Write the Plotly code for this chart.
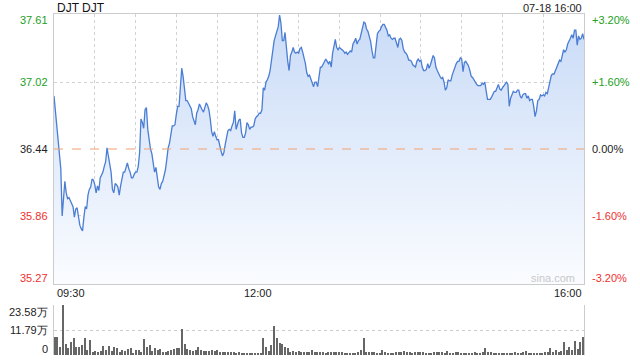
import plotly.graph_objects as go
import pandas as pd

prev_close = 36.44

prices = [
    36.90, 36.78, 36.64, 36.55, 36.44, 36.27, 35.86, 36.04, 36.16, 36.06,
    36.01, 36.02, 35.99, 35.97, 35.94, 35.85, 35.92, 35.93, 35.85, 35.78,
    35.75, 35.73, 35.85, 35.94, 35.92, 36.04, 36.09, 36.11, 36.18, 36.17,
    36.13, 36.06, 36.12, 36.08, 36.19, 36.22, 36.24, 36.29, 36.33, 36.45,
    36.38, 36.33, 36.24, 36.09, 36.06, 36.14, 36.13, 36.11, 36.04, 36.12,
    36.18, 36.24, 36.24, 36.29, 36.32, 36.27, 36.24, 36.19, 36.19, 36.22,
    36.24, 36.24, 36.29, 36.41, 36.70, 36.67, 36.62, 36.78, 36.80, 36.61,
    36.52, 36.44, 36.40, 36.32, 36.24, 36.28, 36.18, 36.11, 36.09, 36.14,
    36.16, 36.21, 36.26, 36.35, 36.45, 36.49, 36.55, 36.64, 36.64, 36.65,
    36.74, 36.81, 36.81, 37.01, 37.14, 37.07, 36.95, 36.86, 36.86, 36.84,
    36.82, 36.79, 36.72, 36.68, 36.65, 36.75, 36.78, 36.83, 36.80, 36.78,
    36.76, 36.81, 36.84, 36.82, 36.78, 36.70, 36.59, 36.55, 36.59, 36.55,
    36.52, 36.52, 36.46, 36.42, 36.38, 36.41, 36.48, 36.56, 36.60, 36.61,
    36.60, 36.64, 36.67, 36.77, 36.61, 36.65, 36.69, 36.70, 36.58, 36.54,
    36.54, 36.58, 36.67, 36.65, 36.61, 36.63, 36.63, 36.64, 36.70, 36.72,
    36.73, 36.75, 36.75, 36.78, 36.97, 36.95, 37.02, 37.04, 37.07, 37.12,
    37.22, 37.32, 37.38, 37.42, 37.47, 37.50, 37.60, 37.53, 37.38, 37.38,
    37.45, 37.31, 37.20, 37.12, 37.25, 37.28, 37.32, 37.28, 37.27, 37.28,
    37.27, 37.31, 37.32, 37.28, 37.24, 37.18, 37.10, 37.07, 37.08, 37.04,
    37.01, 36.98, 37.02, 37.02, 36.98, 37.08, 37.15, 37.15, 37.17, 37.19,
    37.22, 37.20, 37.18, 37.20, 37.15, 37.27, 37.34, 37.39, 37.32, 37.30,
    37.32, 37.31, 37.30, 37.29, 37.27, 37.28, 37.26, 37.28, 37.29, 37.28,
    37.35, 37.37, 37.40, 37.35, 37.38, 37.39, 37.44, 37.48, 37.54, 37.53,
    37.48, 37.46, 37.41, 37.37, 37.29, 37.23, 37.23, 37.34, 37.44, 37.46,
    37.47, 37.50, 37.52, 37.52, 37.50, 37.47, 37.42, 37.43, 37.40, 37.39,
    37.40, 37.40, 37.36, 37.32, 37.39, 37.40, 37.38, 37.31, 37.28, 37.27,
    37.25, 37.21, 37.21, 37.20, 37.17, 37.16, 37.15, 37.20, 37.22, 37.20,
    37.21, 37.15, 37.12, 37.12, 37.13, 37.18, 37.14, 37.17, 37.21, 37.25,
    37.23, 37.15, 37.12, 37.09, 37.07, 37.05, 37.06, 37.02, 36.95, 36.97,
    37.04, 37.03, 37.03, 37.08, 37.12, 37.16, 37.18, 37.20, 37.20, 37.23,
    37.22, 37.11, 37.19, 37.20, 37.18, 37.16, 37.12, 37.07, 37.06, 37.04,
    37.01, 37.00, 36.99, 36.99, 36.99, 37.01, 37.00, 37.02, 36.95, 36.87,
    36.87, 36.87, 36.89, 36.91, 36.94, 36.94, 36.97, 37.00, 36.96, 36.95,
    36.97, 36.99, 37.01, 37.02, 37.00, 36.81, 36.88, 36.92, 36.94, 36.93,
    36.93, 36.95, 36.95, 36.90, 36.88, 36.91, 36.92, 36.92, 36.88, 36.90,
    36.86, 36.87, 36.87, 36.81, 36.72, 36.77, 36.86, 36.87, 36.91, 36.90,
    36.91, 36.90, 36.93, 36.92, 36.98, 37.05, 37.08, 37.09, 37.09, 37.12,
    37.15, 37.19, 37.21, 37.20, 37.26, 37.30, 37.28, 37.30, 37.35, 37.37,
    37.40, 37.43, 37.40, 37.47, 37.47, 37.34, 37.42, 37.39, 37.40, 37.44,
    37.39,
]

# volume in 万 shares, one bar per 2 minutes
volumes_wan = [
    8.6, 8.6, 3.9, 23.58, 5.0, 3.5, 6.1, 7.9, 3.9, 4.0,
    4.7, 7.9, 2.5, 7.1, 1.6, 2.0, 1.6, 2.0, 4.2, 2.5,
    4.2, 2.0, 3.6, 3.5, 1.6, 2.4, 2.0, 2.6, 3.1, 1.1,
    2.4, 2.4, 1.6, 7.6, 3.9, 4.7, 2.0, 3.5, 2.4, 2.7,
    1.3, 1.3, 2.0, 2.4, 2.7, 3.5, 3.5, 12.1, 5.0, 2.7,
    2.2, 2.0, 2.5, 3.9, 2.2, 1.7, 2.0, 1.8, 2.4, 1.8,
    2.3, 1.6, 1.6, 1.6, 1.5, 1.2, 1.6, 0.8, 1.2, 0.8,
    0.7, 0.5, 0.7, 0.8, 1.1, 0.8, 0.5, 7.9, 4.0, 1.9,
    4.7, 13.7, 8.2, 5.5, 5.0, 3.9, 3.1, 1.6, 2.0, 1.6,
    2.0, 1.3, 1.6, 1.6, 1.3, 2.5, 1.6, 1.5, 1.3, 1.2,
    0.8, 1.3, 1.5, 1.2, 1.3, 1.4, 1.6, 0.9, 0.8, 0.8,
    1.1, 1.1, 1.4, 2.4, 7.9, 1.6, 1.2, 1.3, 1.2, 1.0,
    1.1, 2.2, 1.2, 0.9, 1.1, 0.8, 1.2, 1.6, 1.3, 1.9,
    1.5, 1.3, 1.1, 1.6, 1.4, 1.3, 1.4, 1.1, 1.1, 1.1,
    1.3, 1.2, 1.4, 1.2, 1.1, 2.0, 1.1, 1.0, 1.2, 1.2,
    1.1, 0.9, 0.8, 1.0, 0.8, 1.5, 1.1, 1.0, 1.2, 3.1,
    1.5, 1.2, 1.0, 0.9, 0.8, 1.0, 0.8, 1.0, 1.0, 0.9,
    1.2, 0.9, 1.0, 1.5, 1.9, 0.8, 0.8, 1.0, 0.8, 1.1,
    0.8, 1.3, 1.4, 3.1, 1.2, 2.2, 1.6, 2.0, 6.3, 2.4,
    3.6, 2.4, 6.7, 2.8, 6.3, 8.6,
]

price_ticks = [37.61, 37.02, 36.44, 35.86, 35.27]
pct_labels = ["+3.20%", "+1.60%", "0.00%", "-1.60%", "-3.20%"]
tick_colors = ["#22a022", "#22a022", "#222222", "#f03030", "#f03030"]
vol_ticks = [23.58, 11.79, 0]
vol_labels = ["23.58万", "11.79万", "0"]
time_labels = ["09:30", "12:00", "16:00"]
title_text = "DJT DJT"
stamp_text = "07-18 16:00"

times = pd.date_range("2024-07-18 09:30", periods=len(prices), freq="min")
vol_times = pd.date_range("2024-07-18 09:30", periods=len(volumes_wan), freq="2min")
x_end = pd.Timestamp("2024-07-18 16:00")

lo = price_ticks[-1]
hi = price_ticks[0]

FONT = "Liberation Sans, Arial, sans-serif"

fig = go.Figure()
fig.add_trace(go.Scatter(
    x=times, y=prices, mode="lines",
    line=dict(color="#4a7dd3", width=1.3),
    fill="tozeroy",
    fillgradient=dict(type="vertical",
                      colorscale=[[0, "#fafcff"], [1, "#c9dbf7"]],
                      start=lo, stop=hi),
    hoverinfo="skip", showlegend=False,
))
fig.add_trace(go.Bar(
    x=vol_times, y=volumes_wan, xaxis="x2", yaxis="y2",
    marker=dict(color="#666666", line=dict(width=0)),
    width=60000, showlegend=False, hoverinfo="skip",
))

fig.update_layout(
    width=640, height=360,
    margin=dict(l=0, r=0, t=0, b=0),
    paper_bgcolor="white", plot_bgcolor="white",
    font=dict(family=FONT, size=11, color="#222"),
    xaxis=dict(domain=[54/640, 584/640], range=[times[0], x_end],
               showgrid=True, gridcolor="#d2d2d2", griddash="dot", gridwidth=1,
               dtick=30*60*1000, tick0=times[0], showticklabels=False, ticks="",
               showline=True, linecolor="#cccccc", mirror=True, zeroline=False),
    yaxis=dict(domain=[76/360, 346/360], range=[lo, hi],
               tickvals=[price_ticks[1], price_ticks[3]],
               showgrid=True, gridcolor="#d2d2d2", griddash="dot",
               showticklabels=False, ticks="", zeroline=False,
               showline=True, linecolor="#cccccc", mirror=True),
    xaxis2=dict(domain=[54/640, 584/640],
                range=[times[0] - pd.Timedelta(seconds=40), x_end + pd.Timedelta(seconds=40)],
                anchor="y2", showgrid=False, showticklabels=False,
                ticks="", showline=False, zeroline=False),
    yaxis2=dict(domain=[5/360, 55/360], range=[0, 23.58], anchor="x2",
                tickvals=vol_ticks[:2], showgrid=True, gridcolor="#cccccc",
                griddash="dot", showticklabels=False, ticks="", zeroline=False,
                showline=True, linecolor="#cccccc", mirror=True),
    bargap=0,
)

fig.add_shape(type="line", xref="x domain", x0=0, x1=1, yref="y",
              y0=prev_close, y1=prev_close,
              line=dict(color="#f0a070", width=1, dash="dash"))

ann = []
shifts = [-6, 0, 0, 0, 6]
for v, pl, c, s in zip(price_ticks, pct_labels, tick_colors, shifts):
    ann.append(dict(x=50/640, xref="paper", xanchor="right", y=v, yref="y",
                    yanchor="middle", yshift=s, text=f"{v:.2f}",
                    font=dict(color=c, size=11), showarrow=False))
    ann.append(dict(x=590/640, xref="paper", xanchor="left", y=v, yref="y",
                    yanchor="middle", yshift=s, text=pl,
                    font=dict(color=c, size=11), showarrow=False))

vshifts = [-7, 0, 6]
for v, lab, s in zip(vol_ticks, vol_labels, vshifts):
    ann.append(dict(x=50/640, xref="paper", xanchor="right", y=v, yref="y2",
                    yanchor="middle", yshift=s, text=lab,
                    font=dict(color="#222", size=11), showarrow=False))

anchors = ["left", "center", "right"]
for lab, a in zip(time_labels, anchors):
    ann.append(dict(x=pd.Timestamp(f"2024-07-18 {lab}"), xref="x", xanchor=a,
                    y=(360-293)/360, yref="paper", yanchor="middle",
                    text=lab, font=dict(color="#222", size=11), showarrow=False,
                    xshift=(1 if a == "left" else 0)))

ann.append(dict(x=55/640, xref="paper", xanchor="left", y=(360-8)/360,
                yref="paper", yanchor="middle", text=title_text,
                font=dict(color="#111", size=12), showarrow=False))
ann.append(dict(x=584/640, xref="paper", xanchor="right", y=(360-8)/360,
                yref="paper", yanchor="middle", text=stamp_text,
                font=dict(color="#222", size=11), showarrow=False))
ann.append(dict(x=577/640, xref="paper", xanchor="right", y=(360-278)/360,
                yref="paper", yanchor="middle", text="sina.com",
                font=dict(color="#c8c8c8", size=11), showarrow=False))

fig.update_layout(annotations=ann)
fig.write_html("out.html", config={"displayModeBar": False},
               post_script="document.body.style.margin='0';document.body.style.overflow='hidden';")
